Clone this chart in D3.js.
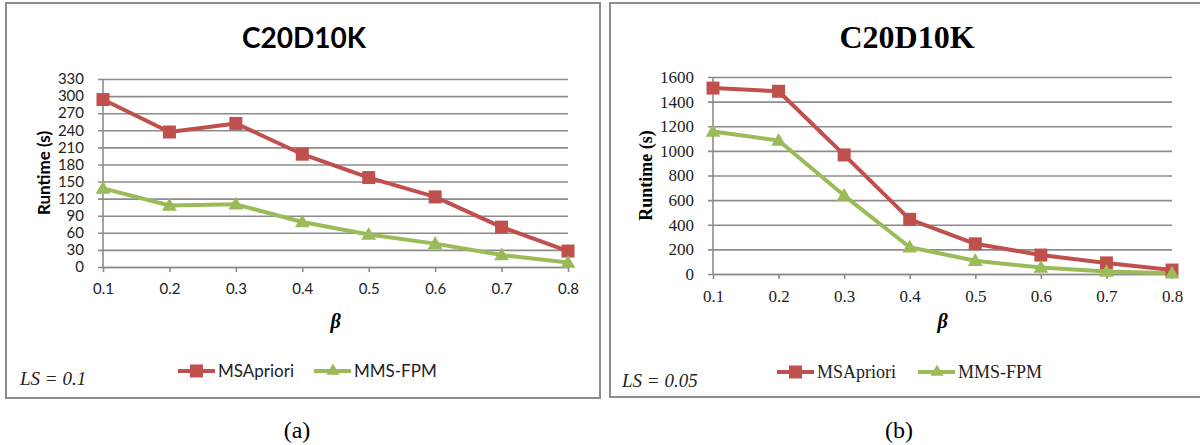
<!DOCTYPE html>
<html>
<head>
<meta charset="utf-8">
<script src="https://cdn.jsdelivr.net/npm/d3@7"></script>
<style>
  html, body { margin: 0; padding: 0; background: #fff; }
  svg { display: block; }
</style>
</head>
<body>
<svg id="fig" width="1200" height="445"></svg>
<script>
// Shared categories (β)
const betaLabels = ["0.1", "0.2", "0.3", "0.4", "0.5", "0.6", "0.7", "0.8"];

// Panel (a): LS = 0.1
const yTicksA = [0, 30, 60, 90, 120, 150, 180, 210, 240, 270, 300, 330];
const msaprioriA = [294, 237, 252, 198, 157, 123, 70, 28];
const mmsfpmA = [138, 108, 110, 79, 57, 41, 21, 8];

// Panel (b): LS = 0.05
const yTicksB = [0, 200, 400, 600, 800, 1000, 1200, 1400, 1600];
const msaprioriB = [1510, 1484, 967, 444, 245, 154, 90, 32];
const mmsfpmB = [1157, 1084, 637, 217, 108, 52, 20, 6];

const seriesNames = ["MSApriori", "MMS-FPM"];
const RED = "#c0504d", GREEN = "#9bbb59", GRID = "#8c8c8c";

const SANS = "Lato, 'Open Sans', sans-serif";
const SERIF = "'Liberation Serif', 'Times New Roman', serif";

const svg = d3.select("#fig");

const panels = [
  {
    frame: { x: 6, y: 3, w: 594, h: 395 },
    plot: { left: 103, right: 568, top: 79, bottom: 267 },
    font: SANS, titleFont: SANS, titleSize: 28, titleX: 304,
    tickSize: 15, ytitleX: 44, ytitleSize: 17,
    yTicks: yTicksA, s1: msaprioriA, s2: mmsfpmA,
    legend: { x1: 178, x2: 314, y: 371, size: 17 },
    ls: { x: 20, y: 385, text: "LS = 0.1" },
    caption: { x: 297, text: "(a)" }
  },
  {
    frame: { x: 610, y: 3, w: 600, h: 394 },
    plot: { left: 713, right: 1172, top: 77, bottom: 274 },
    font: SERIF, titleFont: SERIF, titleSize: 32, titleX: 907,
    tickSize: 17, ytitleX: 646, ytitleSize: 18,
    yTicks: yTicksB, s1: msaprioriB, s2: mmsfpmB,
    legend: { x1: 777, x2: 918, y: 372, size: 18 },
    ls: { x: 622, y: 387, text: "LS = 0.05" },
    caption: { x: 899, text: "(b)" }
  }
];

function styleText(sel, family, size, extra) {
  sel.style("font-family", family).style("font-size", size + "px");
  if (extra) Object.entries(extra).forEach(([k, v]) => sel.style(k, v));
  return sel;
}

panels.forEach(p => {
  const g = svg.append("g");

  // Panel frame
  g.append("rect")
    .attr("x", p.frame.x).attr("y", p.frame.y)
    .attr("width", p.frame.w).attr("height", p.frame.h)
    .attr("fill", "none").attr("stroke", GRID).attr("stroke-width", 2);

  // Title
  styleText(g.append("text")
    .attr("x", p.titleX).attr("y", 48)
    .attr("text-anchor", "middle")
    .text("C20D10K"), p.titleFont, p.titleSize, { "font-weight": "bold" });

  const x = d3.scalePoint().domain(betaLabels).range([p.plot.left, p.plot.right]);
  const y = d3.scaleLinear()
    .domain([0, d3.max(p.yTicks)])
    .range([p.plot.bottom, p.plot.top]);

  // Horizontal gridlines with outside tick marks
  const yAxis = d3.axisLeft(y).tickValues(p.yTicks).tickFormat(d3.format("d"))
    .tickSize(-(p.plot.right - p.plot.left)).tickSizeOuter(0).tickPadding(0);
  const ya = g.append("g").attr("transform", `translate(${p.plot.left},0)`).call(yAxis);
  ya.select(".domain").remove();
  ya.selectAll(".tick line")
    .attr("x1", -5)
    .attr("stroke", GRID).attr("stroke-width", 1.6);
  styleText(ya.selectAll(".tick text").attr("x", -19).attr("fill", "#222"),
    p.font, p.tickSize);

  // Vertical axis line
  g.append("line")
    .attr("x1", p.plot.left).attr("x2", p.plot.left)
    .attr("y1", p.plot.top).attr("y2", p.plot.bottom)
    .attr("stroke", GRID).attr("stroke-width", 1.6);

  // Category axis
  const xAxis = d3.axisBottom(x).tickSize(5).tickSizeOuter(0).tickPadding(11);
  const xa = g.append("g").attr("transform", `translate(0,${p.plot.bottom})`).call(xAxis);
  xa.select(".domain").attr("stroke", GRID).attr("stroke-width", 1.6);
  xa.selectAll(".tick line").attr("stroke", GRID).attr("stroke-width", 1.6);
  styleText(xa.selectAll(".tick text").attr("fill", "#222"), p.font, p.tickSize);

  // Axis titles
  const cx = (p.plot.left + p.plot.right) / 2;
  styleText(g.append("text")
    .attr("x", cx).attr("y", 328)
    .attr("text-anchor", "middle")
    .text("β"), SERIF, 20, { "font-weight": "bold", "font-style": "italic" });
  const cy = (p.plot.top + p.plot.bottom) / 2;
  styleText(g.append("text")
    .attr("transform", `translate(${p.ytitleX},${cy}) rotate(-90)`)
    .attr("text-anchor", "middle").attr("dy", "0.35em")
    .text("Runtime (s)"), p.font, p.ytitleSize, { "font-weight": "bold" });

  // Series lines and markers
  const line = d3.line().x((d, i) => x(betaLabels[i])).y(d => y(d));
  const tri = d3.symbol().type(d3.symbolTriangle).size(95);

  g.append("path").datum(p.s2)
    .attr("d", line).attr("fill", "none")
    .attr("stroke", GREEN).attr("stroke-width", 4).attr("stroke-linejoin", "round");
  g.append("path").datum(p.s1)
    .attr("d", line).attr("fill", "none")
    .attr("stroke", RED).attr("stroke-width", 4).attr("stroke-linejoin", "round");

  g.selectAll(".mk-red").data(p.s1).enter().append("rect")
    .attr("x", (d, i) => x(betaLabels[i]) - 6.5)
    .attr("y", d => y(d) - 6.5)
    .attr("width", 13).attr("height", 13)
    .attr("fill", RED);
  g.selectAll(".mk-green").data(p.s2).enter().append("path")
    .attr("transform", (d, i) => `translate(${x(betaLabels[i])},${y(d) + 1})`)
    .attr("d", tri).attr("fill", GREEN);

  // Legend
  const L = p.legend;
  [RED, GREEN].forEach((c, k) => {
    const lx = k === 0 ? L.x1 : L.x2;
    g.append("line")
      .attr("x1", lx).attr("x2", lx + 37)
      .attr("y1", L.y).attr("y2", L.y)
      .attr("stroke", c).attr("stroke-width", 4);
    if (k === 0) {
      g.append("rect").attr("x", lx + 12).attr("y", L.y - 6.5)
        .attr("width", 13).attr("height", 13).attr("fill", c);
    } else {
      g.append("path").attr("transform", `translate(${lx + 19},${L.y})`)
        .attr("d", d3.symbol().type(d3.symbolTriangle).size(75)).attr("fill", c);
    }
    styleText(g.append("text")
      .attr("x", lx + 40).attr("y", L.y).attr("dy", "0.35em")
      .attr("fill", "#222")
      .text(seriesNames[k]), p.font, L.size);
  });

  // LS annotation
  styleText(g.append("text")
    .attr("x", p.ls.x).attr("y", p.ls.y)
    .attr("fill", "#222")
    .text(p.ls.text), SERIF, 19, { "font-style": "italic" });

  // Sub-figure caption
  styleText(svg.append("text")
    .attr("x", p.caption.x).attr("y", 438)
    .attr("text-anchor", "middle")
    .text(p.caption.text), SERIF, 24);
});
</script>
</body>
</html>
